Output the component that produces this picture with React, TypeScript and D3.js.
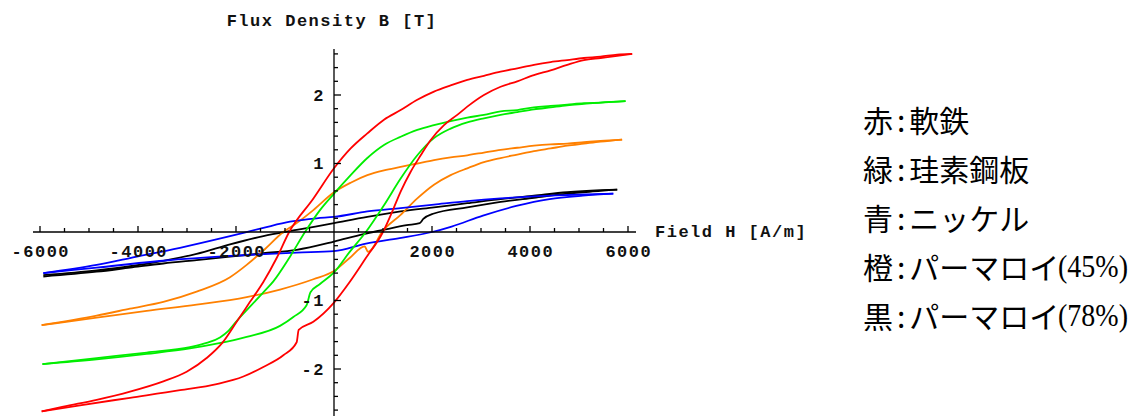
import * as d3 from "d3";

// Hysteresis loops, [H (A/m), B (T)], each branch listed in rising H
const redUpper: [number, number][] = [
  [-5966, -2.62], [-5524, -2.55], [-4844, -2.45], [-4163, -2.33], [-3483, -2.18],
  [-3007, -2.04], [-2599, -1.84], [-2259, -1.6], [-1986, -1.31], [-1714, -1.02],
  [-1442, -0.73], [-1170, -0.38], [-915, 0], [-420, 0.49], [0, 0.93], [340, 1.22],
  [680, 1.44], [1020, 1.64], [1360, 1.78], [1700, 1.93], [2040, 2.05], [2380, 2.14],
  [2720, 2.22], [3060, 2.28], [3400, 2.34], [3740, 2.39], [4080, 2.44], [4420, 2.48],
  [4760, 2.51], [5100, 2.54], [5440, 2.56], [5780, 2.59], [6085, 2.6],
];
const redLower: [number, number][] = [
  [-5966, -2.62], [-5184, -2.53], [-4163, -2.42], [-3143, -2.31], [-2395, -2.22],
  [-1850, -2.11], [-1442, -1.97], [-1034, -1.8], [-762, -1.61], [-721, -1.43],
  [-422, -1.31], [0, -1.03], [320, -0.73], [650, -0.38], [1000, 0], [1190, 0.3],
  [1360, 0.59], [1565, 0.88], [1770, 1.12], [1970, 1.34], [2245, 1.56], [2515, 1.71],
  [2720, 1.83], [3060, 2.0], [3400, 2.12], [3740, 2.2], [4080, 2.29], [4420, 2.36],
  [4760, 2.44], [5100, 2.51], [5440, 2.54], [5780, 2.57], [6085, 2.6],
];
const greenUpper: [number, number][] = [
  [-5950, -1.93], [-4844, -1.84], [-3823, -1.76], [-2939, -1.68], [-2600, -1.62],
  [-2327, -1.54], [-2150, -1.44], [-1986, -1.3], [-1700, -1.08], [-1442, -0.88],
  [-1238, -0.72], [-898, -0.36], [-592, 0], [-286, 0.32], [0, 0.56], [340, 0.83],
  [680, 1.08], [1020, 1.27], [1360, 1.39], [1700, 1.49], [2040, 1.56], [2380, 1.62],
  [2720, 1.67], [3060, 1.71], [3400, 1.76], [3740, 1.78], [4080, 1.82], [4420, 1.84],
  [4760, 1.86], [5100, 1.88], [5440, 1.89], [5950, 1.91],
];
const greenLower: [number, number][] = [
  [-5950, -1.93], [-4844, -1.86], [-3823, -1.78], [-2939, -1.7], [-2395, -1.63],
  [-1782, -1.53], [-1102, -1.37], [-830, -1.24], [-560, -1.07], [-480, -0.88],
  [-286, -0.76], [0, -0.59], [320, -0.29], [650, 0], [1020, 0.39], [1360, 0.78],
  [1700, 1.12], [2040, 1.37], [2380, 1.51], [2720, 1.6], [3060, 1.66], [3400, 1.71],
  [3740, 1.75], [4080, 1.79], [4420, 1.82], [4760, 1.85], [5100, 1.87], [5440, 1.89],
  [5950, 1.91],
];
const blueUpper: [number, number][] = [
  [-5932, -0.6], [-4844, -0.48], [-4163, -0.38], [-3143, -0.23], [-2122, -0.06],
  [-1442, 0.06], [-898, 0.15], [-354, 0.2], [0, 0.22], [680, 0.3], [1360, 0.35],
  [2040, 0.4], [2720, 0.45], [3400, 0.49], [4080, 0.52], [4760, 0.54], [5700, 0.56],
];
const blueLower: [number, number][] = [
  [-5932, -0.6], [-4844, -0.52], [-3483, -0.42], [-2122, -0.35], [-762, -0.3],
  [0, -0.28], [653, -0.17], [1340, -0.09], [2000, 0], [2400, 0.08], [3040, 0.24],
  [3720, 0.38], [4400, 0.48], [5080, 0.53], [5700, 0.56],
];
const orangeUpper: [number, number][] = [
  [-5966, -1.36], [-4844, -1.22], [-4163, -1.12], [-3483, -1.02], [-2803, -0.87],
  [-2122, -0.66], [-1782, -0.48], [-1442, -0.27], [-1034, 0], [-762, 0.13],
  [-422, 0.32], [0, 0.58], [340, 0.72], [680, 0.83], [1020, 0.9], [1360, 0.95],
  [1700, 1.0], [2040, 1.05], [2380, 1.09], [2720, 1.12], [3060, 1.16], [3400, 1.2],
  [3740, 1.23], [4080, 1.26], [4420, 1.28], [4760, 1.29], [5100, 1.31], [5440, 1.33],
  [5880, 1.35],
];
const orangeLower: [number, number][] = [
  [-5966, -1.36], [-4844, -1.25], [-3823, -1.15], [-2803, -1.06], [-1782, -0.95],
  [-1102, -0.84], [-422, -0.69], [0, -0.57], [320, -0.38], [626, -0.21], [694, -0.29],
  [1000, 0.02], [1360, 0.25], [1700, 0.49], [2040, 0.69], [2380, 0.83], [2720, 0.93],
  [3060, 1.02], [3400, 1.08], [3740, 1.13], [4080, 1.18], [4420, 1.22], [4760, 1.26],
  [5100, 1.29], [5440, 1.32], [5880, 1.35],
];
const blackUpper: [number, number][] = [
  [-5932, -0.63], [-4844, -0.56], [-4163, -0.5], [-3483, -0.42], [-2803, -0.32],
  [-2122, -0.18], [-1442, -0.06], [-762, 0.03], [0, 0.13], [680, 0.22], [1360, 0.3],
  [2040, 0.36], [2720, 0.42], [3400, 0.48], [4080, 0.53], [4760, 0.58], [5440, 0.61],
  [5780, 0.62],
];
const blackLower: [number, number][] = [
  [-5932, -0.65], [-4844, -0.58], [-4163, -0.52], [-3483, -0.46], [-2803, -0.41],
  [-2122, -0.36], [-1442, -0.31], [-762, -0.26], [0, -0.14], [600, -0.03], [1000, 0.03],
  [1483, 0.1], [1750, 0.13], [1823, 0.19], [2040, 0.27], [2720, 0.36], [3400, 0.44],
  [4080, 0.5], [4760, 0.56], [5440, 0.6], [5780, 0.62],
];

const loops = [
  { color: "#000000", branches: [blackUpper, blackLower] },
  { color: "#ff8000", branches: [orangeUpper, orangeLower] },
  { color: "#0000ff", branches: [blueUpper, blueLower] },
  { color: "#00ee00", branches: [greenUpper, greenLower] },
  { color: "#ff0000", branches: [redUpper, redLower] },
];

const xLabels = [-6000, -4000, -2000, 2000, 4000, 6000];
const yLabels = [-2, -1, 1, 2];

const legendKeys = ["赤", "緑", "青", "橙", "黒"];
const legendNames = ["軟鉄", "珪素鋼板", "ニッケル", "パーマロイ", "パーマロイ"];
const legendNotes = ["", "", "", "(45%)", "(78%)"];

const monoFont = "'Liberation Mono', 'DejaVu Sans Mono', monospace";
const cjkFont = "'Noto Sans CJK JP', 'Noto Sans', sans-serif";
const serifFont = "'Liberation Serif', 'Times New Roman', 'DejaVu Serif', serif";

export default function App() {
  const x = d3.scaleLinear().domain([-6000, 6000]).range([40, 628]);
  const y = d3.scaleLinear().domain([-2, 2]).range([369, 95]);
  const x0 = x(0);
  const y0 = y(0);

  const line = d3
    .line<[number, number]>()
    .x((d) => x(d[0]))
    .y((d) => y(d[1]))
    .curve(d3.curveMonotoneX);

  const xMinor = d3.range(-6000, 6001, 500).filter((v) => v !== 0);
  const yMinor = d3.range(-13, 14).map((k) => k * 0.2).filter((v) => Math.abs(v) > 1e-6);
  const isMajorY = (v: number) => Math.abs(v - Math.round(v)) < 1e-6;

  return (
    <svg
      width={1140}
      height={416}
      style={{ position: "absolute", left: 0, top: 0, background: "#fff" }}
    >
      <rect width={1140} height={416} fill="#fff" />

      <g>
        {loops.map((loop, i) =>
          loop.branches.map((b, j) => (
            <path
              key={`${i}-${j}`}
              d={line(b) ?? ""}
              fill="none"
              stroke={loop.color}
              strokeWidth={1.8}
              strokeLinejoin="round"
            />
          ))
        )}
      </g>

      {/* axes */}
      <g stroke="#000" strokeWidth={1.3}>
        <line x1={33} x2={636} y1={y0} y2={y0} />
        <line x1={x0} x2={x0} y1={49} y2={416} />
        {xMinor.map((v) => (
          <line
            key={`xt${v}`}
            x1={x(v)}
            x2={x(v)}
            y1={y0}
            y2={y0 - (v % 2000 === 0 ? 6 : 4)}
          />
        ))}
        {yMinor.map((v) => (
          <line
            key={`yt${v}`}
            x1={x0}
            x2={x0 + (isMajorY(v) ? 7 : 4)}
            y1={y(v)}
            y2={y(v)}
          />
        ))}
      </g>

      <g
        fontFamily={monoFont}
        fontWeight="bold"
        fontSize={17}
        fill="#111"
        letterSpacing={1.5}
      >
        {xLabels.map((v) => (
          <text key={`xl${v}`} x={x(v) + 0.8} y={257} textAnchor="middle">
            {v}
          </text>
        ))}
        {yLabels.map((v) => (
          <text key={`yl${v}`} x={325} y={y(v)} dy="0.35em" textAnchor="end">
            {v}
          </text>
        ))}
        <text x={332} y={26} textAnchor="middle">
          Flux Density B [T]
        </text>
        <text x={655} y={237}>
          Field H [A/m]
        </text>
      </g>

      <g fill="#000">
        {legendKeys.map((k, i) => {
          const cy = 118.5 + i * 49.2;
          return (
            <g key={k + i}>
              <text x={863} y={cy} dominantBaseline="central" fontFamily={cjkFont} fontSize={30}>
                <tspan>{k}</tspan>
                <tspan dx={4}>:</tspan>
                <tspan dx={4}>{legendNames[i]}</tspan>
              </text>
              {legendNotes[i] && (
                <text
                  x={1058}
                  y={cy + 11}
                  fontFamily={serifFont}
                  fontSize={32}
                  textLength={70}
                  lengthAdjust="spacingAndGlyphs"
                >
                  {legendNotes[i]}
                </text>
              )}
            </g>
          );
        })}
      </g>
    </svg>
  );
}
